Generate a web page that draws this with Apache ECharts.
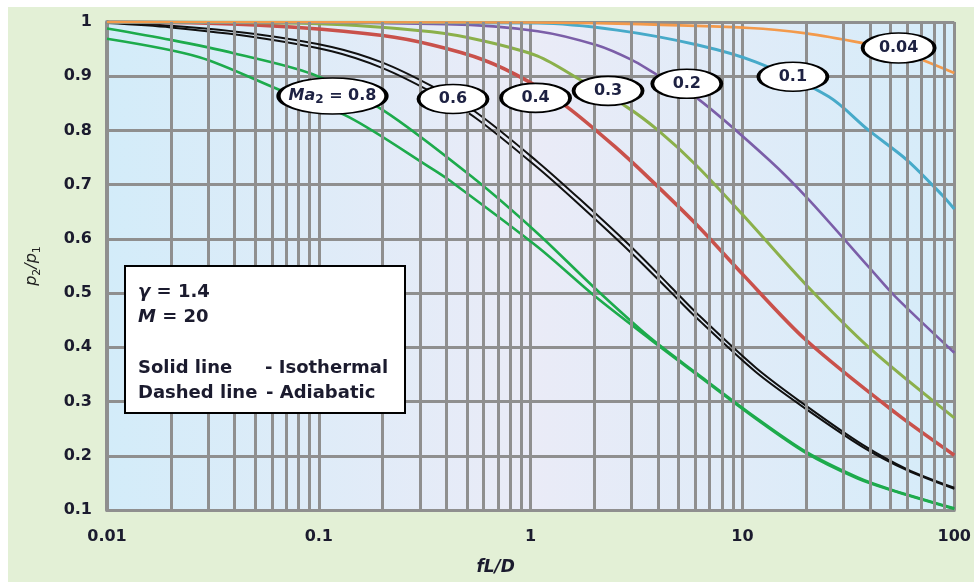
<!DOCTYPE html>
<html>
<head>
<meta charset="utf-8">
<script src="https://cdn.jsdelivr.net/npm/echarts@6/dist/echarts.min.js"></script>
<style>
  html, body { margin: 0; padding: 0; background: #ffffff; }
  #wrap { position: relative; width: 974px; height: 582px; background: #ffffff; overflow: hidden; }
  #bg { position: absolute; left: 8px; top: 7px; width: 966px; height: 575px; background: #e3f0d6; }
  #chart { position: absolute; left: 0; top: 0; width: 974px; height: 582px; }
</style>
</head>
<body>
<div id="wrap"><div id="bg"></div><div id="chart"></div></div>
<script>
// ---- tick labels ----
const xTickLabels = ['0.01', '0.1', '1', '10', '100'];
const yTickLabels = ['0.1', '0.2', '0.3', '0.4', '0.5', '0.6', '0.7', '0.8', '0.9', '1'];

// ---- curves (fL/D, p2/p1) ----
const ma08aX = [0.01, 0.02, 0.04, 0.093, 0.2, 0.55, 1.08, 2.0, 3.66, 6.08, 11.6, 20, 35, 50, 100];
const ma08aY = [0.988, 0.967, 0.942, 0.904, 0.838, 0.709, 0.610, 0.510, 0.418, 0.352, 0.270, 0.207, 0.160, 0.138, 0.103];

const ma08bX = [0.01, 0.0273, 0.065, 0.138, 0.34, 0.41, 1.08, 2.0, 3.66, 6.08, 11.6, 20, 35, 50, 100];
const ma08bY = [0.969, 0.935, 0.875, 0.825, 0.730, 0.709, 0.585, 0.495, 0.415, 0.350, 0.268, 0.205, 0.158, 0.137, 0.102];

const ma06aX = [0.01, 0.02, 0.05, 0.115, 0.2, 0.34, 0.55, 1.08, 1.72, 3.08, 4.5, 6.08, 11.6, 20, 37, 60, 100];
const ma06aY = [0.999, 0.993, 0.978, 0.954, 0.925, 0.882, 0.834, 0.742, 0.672, 0.580, 0.515, 0.463, 0.362, 0.292, 0.220, 0.175, 0.141];

const ma06bX = [0.01, 0.02, 0.05, 0.115, 0.2, 0.34, 0.55, 1.08, 1.72, 3.08, 4.5, 6.08, 11.6, 20, 37, 60, 100];
const ma06bY = [0.998, 0.990, 0.972, 0.946, 0.915, 0.871, 0.823, 0.731, 0.661, 0.569, 0.505, 0.454, 0.354, 0.286, 0.216, 0.173, 0.139];

const ma04X = [0.01, 0.03, 0.08, 0.2, 0.34, 0.6, 0.97, 1.49, 2.5, 3.62, 6.08, 10, 20, 52.8, 100];
const ma04Y = [1.0, 0.998, 0.990, 0.975, 0.958, 0.930, 0.891, 0.843, 0.770, 0.712, 0.626, 0.535, 0.413, 0.279, 0.201];

const ma03X = [0.01, 0.1, 0.34, 0.6, 1.08, 1.72, 2.85, 4, 6.08, 10, 20, 39.5, 100];
const ma03Y = [1.0, 0.997, 0.982, 0.965, 0.937, 0.893, 0.843, 0.800, 0.735, 0.645, 0.515, 0.400, 0.270];

const ma02X = [0.01, 0.4, 1.08, 2.06, 3, 3.82, 6.08, 13.4, 20.6, 39.5, 52.8, 100];
const ma02Y = [1.0, 0.996, 0.983, 0.957, 0.930, 0.906, 0.860, 0.745, 0.672, 0.548, 0.493, 0.390];

const ma01X = [0.01, 1.08, 2.56, 6.08, 11.6, 25.6, 39.5, 60, 88, 100];
const ma01Y = [1.0, 0.998, 0.985, 0.958, 0.926, 0.862, 0.800, 0.745, 0.680, 0.655];

const ma004X = [0.01, 1, 2.56, 10.8, 20, 37, 54, 70.8, 100];
const ma004Y = [1.0, 0.999, 0.997, 0.989, 0.979, 0.961, 0.947, 0.930, 0.906];

// ---- curve labels ----
const labelText = ['Ma2 = 0.8', '0.6', '0.4', '0.3', '0.2', '0.1', '0.04'];
const labelX = [0.116, 0.43, 1.055, 2.32, 5.46, 17.3, 54.6];
const labelY = [0.8635, 0.858, 0.860, 0.873, 0.886, 0.899, 0.952];

// ---- minor grid positions (log decades 2..9) ----
const minorGridX = [];
[0.01, 0.1, 1, 10].forEach(function (d) {
  for (let k = 2; k <= 9; k++) minorGridX.push(+(d * k).toPrecision(3));
});

const FONT = '"DejaVu Sans", "Liberation Sans", sans-serif';
const GRIDC = '#8f8f8f';
const TXT = '#1b1b2e';

function pairs(xs, ys) { return xs.map(function (x, i) { return [x, ys[i]]; }); }

const curves = [
  { name: 'Ma2=0.8 a', x: ma08aX, y: ma08aY, color: '#1dab4c', w: 2.6 },
  { name: 'Ma2=0.8 b', x: ma08bX, y: ma08bY, color: '#1dab4c', w: 2.6 },
  { name: 'Ma2=0.6 a', x: ma06aX, y: ma06aY, color: '#111111', w: 2 },
  { name: 'Ma2=0.6 b', x: ma06bX, y: ma06bY, color: '#111111', w: 2 },
  { name: 'Ma2=0.4', x: ma04X, y: ma04Y, color: '#c9514b', w: 3.6 },
  { name: 'Ma2=0.3', x: ma03X, y: ma03Y, color: '#8bb04b', w: 3 },
  { name: 'Ma2=0.2', x: ma02X, y: ma02Y, color: '#7b5ea8', w: 2.6 },
  { name: 'Ma2=0.1', x: ma01X, y: ma01Y, color: '#47aac9', w: 3 },
  { name: 'Ma2=0.04', x: ma004X, y: ma004Y, color: '#f39a4b', w: 2.6 }
];

const series = [];
// helper series: minor vertical grid lines
series.push({
  type: 'line', name: 'grid', data: [], z: 1, silent: true, animation: false,
  markLine: {
    silent: true, symbol: 'none', animation: false,
    label: { show: false },
    lineStyle: { color: GRIDC, width: 3, type: 'solid' },
    data: minorGridX.map(function (v) { return { xAxis: v }; })
  }
});
curves.forEach(function (c, i) {
  series.push({
    type: 'line', name: c.name, data: pairs(c.x, c.y),
    showSymbol: false, symbol: 'none', smooth: 0.3,
    lineStyle: { color: c.color, width: c.w }, z: 3 + i * 0.01, animation: false, silent: true
  });
});
// labels as ellipses
const ellipse = 'path://M0,50 A50,50 0 1,1 100,50 A50,50 0 1,1 0,50 Z';
series.push({
  type: 'scatter', name: 'labels', z: 10, animation: false, silent: true,
  symbol: ellipse,
  symbolSize: function (v, p) {
    if (p.dataIndex === 0) return [108, 36];
    if (labelText[p.dataIndex].length > 3) return [72, 30];
    return [69, 29];
  },
  itemStyle: { color: '#ffffff', borderColor: '#000000', borderWidth: 2.5, opacity: 1 },
  data: labelX.map(function (x, i) { return [x, labelY[i]]; }),
  label: {
    show: true, position: 'inside',
    formatter: function (p) {
      const t = labelText[p.dataIndex];
      if (t.indexOf('Ma2') === 0) return '{it|Ma}{sub|2}{n|' + t.slice(3) + '}';
      return '{n|' + t + '}';
    },
    rich: {
      n: { fontFamily: FONT, fontWeight: 'bold', fontSize: 16, color: '#1d2142', lineHeight: 20 },
      it: { fontFamily: FONT, fontWeight: 'bold', fontStyle: 'italic', fontSize: 16, color: '#1d2142', lineHeight: 20 },
      sub: { fontFamily: FONT, fontWeight: 'bold', fontSize: 12, color: '#1d2142', lineHeight: 10, verticalAlign: 'bottom' }
    }
  }
});

const chart = echarts.init(document.getElementById('chart'), null, { renderer: 'canvas' });
chart.setOption({
  backgroundColor: 'transparent',
  animation: false,
  grid: {
    left: 107, top: 22, right: 16, bottom: 72, show: true, borderWidth: 0,
    backgroundColor: new echarts.graphic.LinearGradient(0, 0, 1, 0, [
      { offset: 0, color: '#d3ecf9' },
      { offset: 0.5, color: '#eaebf7' },
      { offset: 1, color: '#d5ecf9' }
    ])
  },
  xAxis: {
    type: 'log', logBase: 10, min: 0.01, max: 100, splitNumber: 4,
    axisLine: { show: true, lineStyle: { color: GRIDC, width: 3 } },
    axisTick: { show: false },
    splitLine: { show: true, lineStyle: { color: GRIDC, width: 3 } },
    axisLabel: {
      margin: 19, color: TXT, fontFamily: FONT, fontWeight: 'bold', fontSize: 16,
      formatter: function (v) { return xTickLabels[Math.round(Math.log10(v)) + 2]; }
    },
    name: 'fL/D', nameLocation: 'middle', nameGap: 49,
    nameTextStyle: { fontFamily: FONT, fontWeight: 'bold', fontStyle: 'italic', fontSize: 17, color: TXT, padding: [0, 70, 0, 0] }
  },
  yAxis: {
    type: 'value', min: 0.1, max: 1, interval: 0.1,
    axisLine: { show: true, lineStyle: { color: GRIDC, width: 4 } },
    axisTick: { show: false },
    splitLine: { show: true, lineStyle: { color: GRIDC, width: 3 } },
    axisLabel: {
      margin: 15, color: TXT, fontFamily: FONT, fontWeight: 'bold', fontSize: 16,
      formatter: function (v) { return yTickLabels[Math.round(v * 10) - 1]; }
    },
    name: '{i|p}{s|2}{i|/p}{s|1}', nameLocation: 'middle', nameGap: 64, nameRotate: 90,
    nameTextStyle: {
      rich: {
        i: { fontFamily: FONT, fontStyle: 'italic', fontSize: 16, color: '#222', lineHeight: 22 },
        s: { fontFamily: FONT, fontSize: 11, color: '#222', lineHeight: 12, verticalAlign: 'bottom' }
      }
    }
  },
  graphic: [
    { type: 'rect', z: 50, shape: { x: 125, y: 266, width: 280, height: 147 },
      style: { fill: '#ffffff', stroke: '#000000', lineWidth: 2 } },
    { type: 'text', z: 51, x: 138, y: 292,
      style: { text: '{g|γ} = 1.4', fontFamily: FONT, fontWeight: 'bold', fontSize: 18, fill: TXT, verticalAlign: 'middle',
        rich: { g: { fontFamily: FONT, fontWeight: 'bold', fontStyle: 'italic', fontSize: 18, fill: TXT } } } },
    { type: 'text', z: 51, x: 138, y: 317,
      style: { text: '{g|M} = 20', fontFamily: FONT, fontWeight: 'bold', fontSize: 18, fill: TXT, verticalAlign: 'middle',
        rich: { g: { fontFamily: FONT, fontWeight: 'bold', fontStyle: 'italic', fontSize: 18, fill: TXT } } } },
    { type: 'text', z: 51, x: 138, y: 368,
      style: { text: 'Solid line', fontFamily: FONT, fontWeight: 'bold', fontSize: 18, fill: TXT, verticalAlign: 'middle' } },
    { type: 'text', z: 51, x: 265, y: 368,
      style: { text: '- Isothermal', fontFamily: FONT, fontWeight: 'bold', fontSize: 18, fill: TXT, verticalAlign: 'middle' } },
    { type: 'text', z: 51, x: 138, y: 393,
      style: { text: 'Dashed line', fontFamily: FONT, fontWeight: 'bold', fontSize: 18, fill: TXT, verticalAlign: 'middle' } },
    { type: 'text', z: 51, x: 266, y: 393,
      style: { text: '- Adiabatic', fontFamily: FONT, fontWeight: 'bold', fontSize: 18, fill: TXT, verticalAlign: 'middle' } }
  ],
  series: series
});
</script>
</body>
</html>
